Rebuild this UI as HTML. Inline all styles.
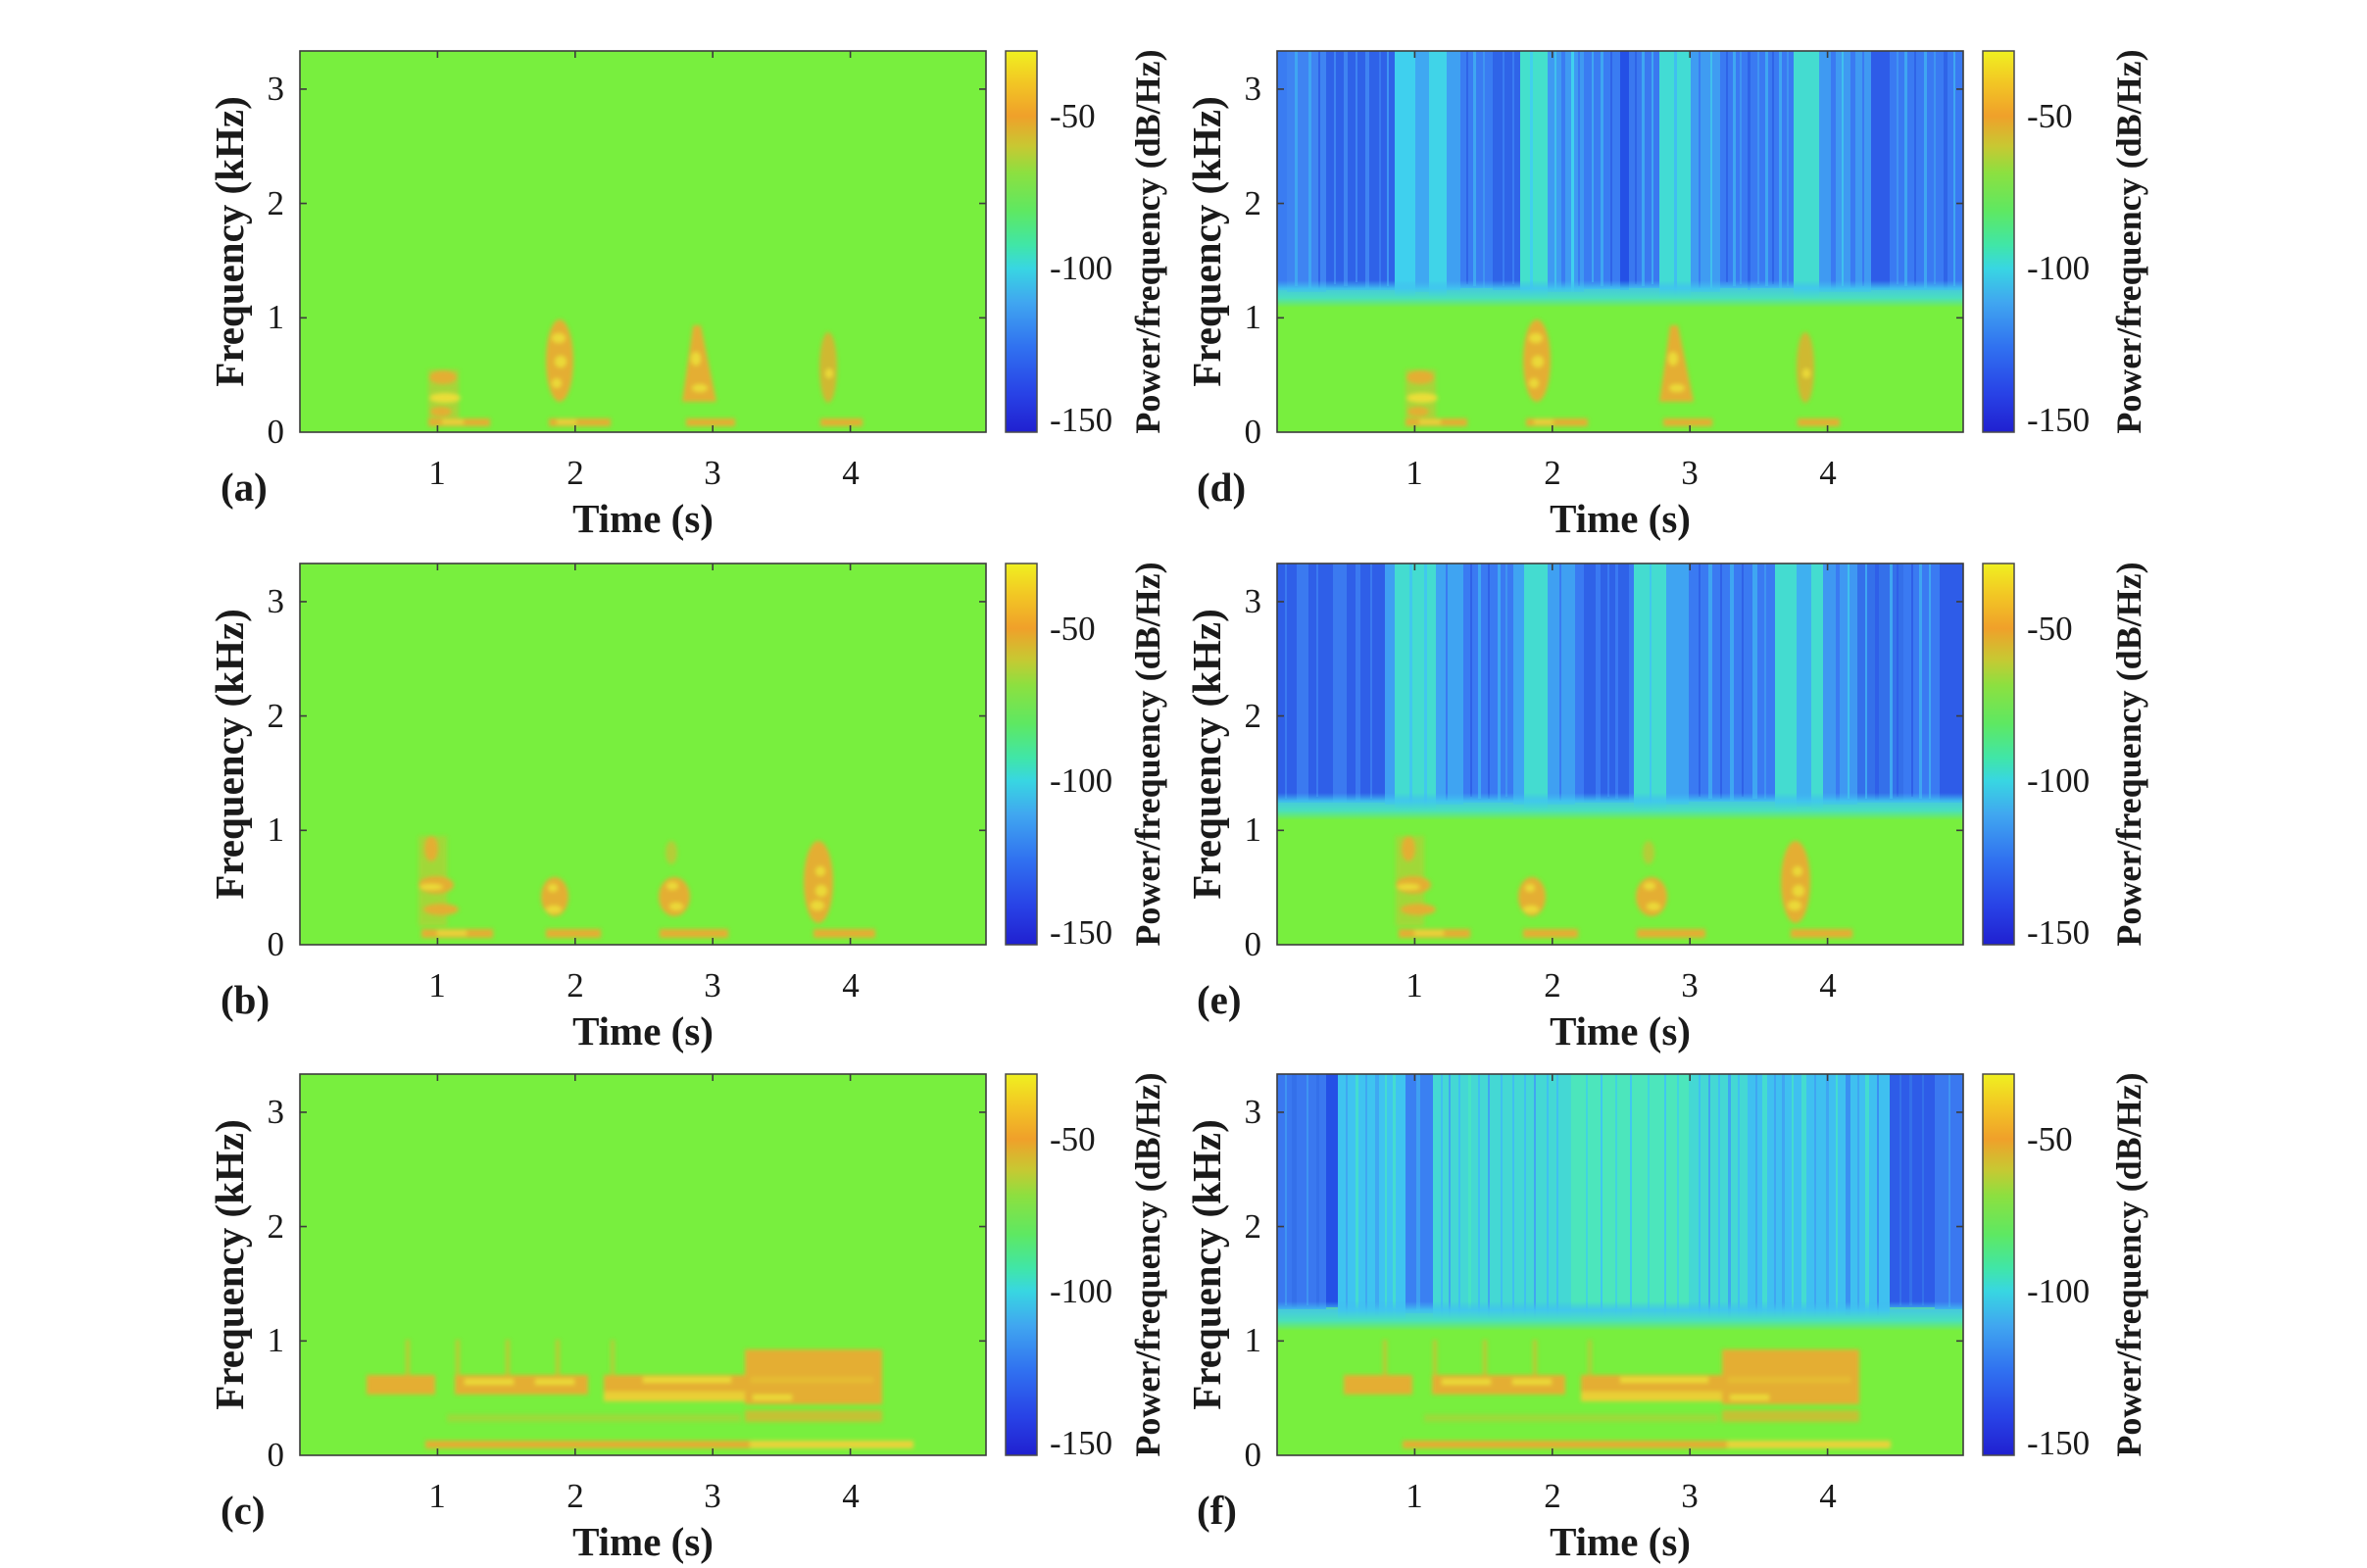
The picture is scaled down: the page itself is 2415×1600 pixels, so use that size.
<!DOCTYPE html>
<html>
<head>
<meta charset="utf-8">
<style>
html,body{margin:0;padding:0;background:#fff;}
svg{display:block;}
text{font-family:"Liberation Serif",serif;fill:#1a1a1a;}
.tk{font-size:35px;}
.lb{font-size:41px;font-weight:bold;}
.cl{font-size:36px;font-weight:bold;}
</style>
</head>
<body>
<svg width="2415" height="1600" viewBox="0 0 2415 1600" xmlns="http://www.w3.org/2000/svg">
<defs>
  <linearGradient id="cb" x1="0" y1="0" x2="0" y2="1">
    <stop offset="0" stop-color="#f0f020"/>
    <stop offset="0.08" stop-color="#f2c824"/>
    <stop offset="0.17" stop-color="#f0a02a"/>
    <stop offset="0.25" stop-color="#c8c832"/>
    <stop offset="0.32" stop-color="#8ce040"/>
    <stop offset="0.42" stop-color="#5ee862"/>
    <stop offset="0.51" stop-color="#40e6a8"/>
    <stop offset="0.57" stop-color="#38d6e2"/>
    <stop offset="0.66" stop-color="#40a6f0"/>
    <stop offset="0.78" stop-color="#3070f0"/>
    <stop offset="0.9" stop-color="#2842e6"/>
    <stop offset="1" stop-color="#2020d0"/>
  </linearGradient>
  <linearGradient id="fringe" x1="0" y1="0" x2="0" y2="1">
    <stop offset="0" stop-color="#40b8f0" stop-opacity="0"/>
    <stop offset="0.3" stop-color="#40c6ee" stop-opacity="0.9"/>
    <stop offset="0.65" stop-color="#4ae0bc" stop-opacity="1"/>
    <stop offset="1" stop-color="#78ef3e" stop-opacity="1"/>
  </linearGradient>
  <filter id="soft" x="-10%" y="-10%" width="120%" height="120%">
    <feGaussianBlur stdDeviation="2.2"/>
  </filter>

  <g id="blobA" filter="url(#soft)" opacity="0.9">
    <rect x="131" y="-64" width="31" height="58" fill="#e8b030" opacity=".45"/>
    <ellipse cx="146" cy="-56" rx="14" ry="7" fill="#f0a830"/>
    <ellipse cx="148" cy="-35" rx="16" ry="5" fill="#f8dc38"/>
    <ellipse cx="144" cy="-21" rx="11" ry="5" fill="#f0a830"/>
    <rect x="131" y="-14" width="63" height="8" fill="#f0a830"/>
    <rect x="145" y="-13" width="22" height="5" fill="#f6d03a"/>

    <ellipse cx="265" cy="-73" rx="14" ry="42" fill="#f0a830"/>
    <ellipse cx="264" cy="-96" rx="7" ry="5" fill="#f8d838"/>
    <ellipse cx="266" cy="-72" rx="6" ry="6" fill="#f8d838"/>
    <ellipse cx="262" cy="-50" rx="5" ry="5" fill="#f8d838"/>
    <rect x="254" y="-14" width="63" height="8" fill="#f0a830"/>
    <rect x="262" y="-13" width="20" height="5" fill="#f6d03a"/>

    <polygon points="401,-109 409,-109 425,-31 390,-31" fill="#f0a830"/>
    <ellipse cx="404" cy="-75" rx="5" ry="7" fill="#f8d838"/>
    <ellipse cx="408" cy="-45" rx="8" ry="4" fill="#f8d838"/>
    <rect x="394" y="-14" width="50" height="8" fill="#f0a830"/>

    <ellipse cx="539" cy="-66" rx="9" ry="36" fill="#eaa830" opacity=".85"/>
    <ellipse cx="540" cy="-60" rx="4" ry="5" fill="#f8d838"/>
    <rect x="531" y="-14" width="43" height="8" fill="#f0a830"/>
  </g>

  <g id="blobB" filter="url(#soft)" opacity="0.9">
    <rect x="121" y="-111" width="29" height="92" fill="#e8b030" opacity=".4"/>
    <ellipse cx="134" cy="-98" rx="7" ry="13" fill="#f0a830"/>
    <ellipse cx="139" cy="-61" rx="18" ry="9" fill="#f0a830"/>
    <ellipse cx="134" cy="-59" rx="12" ry="3" fill="#f8dc38"/>
    <ellipse cx="144" cy="-36" rx="18" ry="6" fill="#f0a830"/>
    <rect x="124" y="-16" width="73" height="9" fill="#f0a830"/>
    <rect x="140" y="-15" width="30" height="6" fill="#f6d03a"/>

    <ellipse cx="260" cy="-49" rx="14" ry="20" fill="#f0a830"/>
    <ellipse cx="259" cy="-36" rx="8" ry="4" fill="#f8d838"/>
    <ellipse cx="258" cy="-58" rx="5" ry="4" fill="#f8d838"/>
    <rect x="251" y="-16" width="56" height="9" fill="#f0a830"/>

    <ellipse cx="379" cy="-94" rx="6" ry="12" fill="#e8b030" opacity=".6"/>
    <ellipse cx="382" cy="-49" rx="16" ry="20" fill="#f0a830"/>
    <ellipse cx="384" cy="-39" rx="7" ry="4" fill="#f8d838"/>
    <ellipse cx="380" cy="-60" rx="6" ry="4" fill="#f8d838"/>
    <rect x="367" y="-16" width="70" height="9" fill="#f0a830"/>

    <ellipse cx="529" cy="-64" rx="15" ry="42" fill="#f0a830"/>
    <ellipse cx="532" cy="-55" rx="6" ry="6" fill="#f8d838"/>
    <ellipse cx="528" cy="-40" rx="7" ry="5" fill="#f8d838"/>
    <ellipse cx="531" cy="-75" rx="5" ry="5" fill="#f8d838"/>
    <rect x="524" y="-16" width="63" height="9" fill="#f0a830"/>
  </g>

  <g id="blobC" filter="url(#soft)" opacity="0.9">
    <rect x="108" y="-118" width="4" height="40" fill="#e8b030" opacity=".7"/>
    <rect x="159" y="-118" width="4" height="40" fill="#e8b030" opacity=".7"/>
    <rect x="210" y="-118" width="4" height="40" fill="#e8b030" opacity=".7"/>
    <rect x="261" y="-118" width="4" height="40" fill="#e8b030" opacity=".7"/>
    <rect x="317" y="-118" width="4" height="40" fill="#e8b030" opacity=".6"/>
    <rect x="68" y="-82" width="70" height="20" fill="#f0a830"/>
    <rect x="158" y="-82" width="136" height="20" fill="#f0a830"/>
    <rect x="168" y="-78" width="50" height="6" fill="#f8d838"/>
    <rect x="240" y="-78" width="40" height="6" fill="#f8d838"/>
    <rect x="310" y="-82" width="149" height="20" fill="#f0a830"/>
    <rect x="310" y="-65" width="158" height="10" fill="#f6cc34"/>
    <rect x="350" y="-80" width="90" height="6" fill="#f8d838"/>
    <rect x="454" y="-108" width="140" height="56" fill="#f0a830"/>
    <rect x="460" y="-80" width="125" height="6" fill="#f2b830"/>
    <rect x="462" y="-62" width="40" height="6" fill="#f8d838"/>
    <rect x="150" y="-42" width="300" height="8" fill="#e8b030" opacity=".35"/>
    <rect x="454" y="-46" width="140" height="12" fill="#f0a830" opacity=".7"/>
    <rect x="128" y="-15" width="498" height="8" fill="#f0a830"/>
    <rect x="459" y="-15" width="167" height="8" fill="#f6d03a"/>
  </g>
</defs>

<rect x="0" y="0" width="2415" height="1600" fill="#ffffff"/>

<!-- LEFT COLUMN -->
<g transform="translate(306,52)">
  <rect width="700" height="389" fill="#78ef3e"/>
  <use href="#blobA" transform="translate(0,389)"/>
</g>
<g transform="translate(306,575)">
  <rect width="700" height="389" fill="#78ef3e"/>
  <use href="#blobB" transform="translate(0,389)"/>
</g>
<g transform="translate(306,1096)">
  <rect width="700" height="389" fill="#78ef3e"/>
  <use href="#blobC" transform="translate(0,389)"/>
</g>

<!-- RIGHT COLUMN -->
<!-- (d) -->
<g transform="translate(1303,52)">
  <rect width="700" height="389" fill="#78ef3e"/>
  <g>
    <rect x="0" y="0" width="10" height="244" fill="#3a7cf2"/>
    <rect x="10" y="0" width="40" height="246" fill="#3f84f2"/>
    <rect x="18" y="0" width="3" height="240" fill="#3fa6f2"/>
    <rect x="32" y="0" width="3" height="242" fill="#3fa6f2"/>
    <rect x="42" y="0" width="2" height="244" fill="#2f62e8"/>
    <rect x="50" y="0" width="70" height="244" fill="#2f62e8"/>
    <rect x="58" y="0" width="2" height="238" fill="#3f84f2"/>
    <rect x="68" y="0" width="4" height="240" fill="#3f84f2"/>
    <rect x="80" y="0" width="2" height="236" fill="#3f84f2"/>
    <rect x="90" y="0" width="4" height="242" fill="#3f84f2"/>
    <rect x="104" y="0" width="2" height="244" fill="#3a78f0"/>
    <rect x="112" y="0" width="2" height="240" fill="#3f94f2"/>
    <rect x="120" y="0" width="21" height="250" fill="#3fd0ee"/>
    <rect x="141" y="0" width="14" height="246" fill="#3fa8f2"/>
    <rect x="155" y="0" width="18" height="250" fill="#40d4e8"/>
    <rect x="173" y="0" width="14" height="244" fill="#3fa0f2"/>
    <rect x="187" y="0" width="33" height="242" fill="#3a7cf2"/>
    <rect x="193" y="0" width="2" height="238" fill="#2f64e8"/>
    <rect x="200" y="0" width="3" height="240" fill="#3fa6f2"/>
    <rect x="210" y="0" width="2" height="242" fill="#3f94f2"/>
    <rect x="220" y="0" width="28" height="244" fill="#2f64e8"/>
    <rect x="230" y="0" width="2" height="240" fill="#3a7cf2"/>
    <rect x="240" y="0" width="2" height="238" fill="#3a7cf2"/>
    <rect x="248" y="0" width="28" height="256" fill="#44e0cc"/>
    <rect x="258" y="0" width="3" height="250" fill="#40d0ee"/>
    <rect x="276" y="0" width="37" height="246" fill="#3f9af2"/>
    <rect x="283" y="0" width="2" height="244" fill="#40c0ee"/>
    <rect x="290" y="0" width="4" height="244" fill="#3a7cf2"/>
    <rect x="300" y="0" width="3" height="246" fill="#40d0ee"/>
    <rect x="307" y="0" width="2" height="240" fill="#3a7cf2"/>
    <rect x="313" y="0" width="37" height="243" fill="#3a7cf2"/>
    <rect x="321" y="0" width="2" height="236" fill="#3fa6f2"/>
    <rect x="330" y="0" width="3" height="240" fill="#3fa6f2"/>
    <rect x="340" y="0" width="2" height="240" fill="#2f64e8"/>
    <rect x="350" y="0" width="9" height="244" fill="#2450e6"/>
    <rect x="359" y="0" width="31" height="242" fill="#3a78f0"/>
    <rect x="365" y="0" width="2" height="238" fill="#2f64e8"/>
    <rect x="372" y="0" width="3" height="240" fill="#3fa6f2"/>
    <rect x="382" y="0" width="2" height="238" fill="#3fa6f2"/>
    <rect x="390" y="0" width="32" height="256" fill="#42dcd4"/>
    <rect x="405" y="0" width="3" height="250" fill="#3fc0f0"/>
    <rect x="422" y="0" width="30" height="246" fill="#3f9cf2"/>
    <rect x="430" y="0" width="2" height="242" fill="#3a7cf2"/>
    <rect x="442" y="0" width="2" height="242" fill="#40c0ee"/>
    <rect x="452" y="0" width="75" height="242" fill="#3a7af2"/>
    <rect x="458" y="0" width="2" height="236" fill="#2f64e8"/>
    <rect x="465" y="0" width="3" height="240" fill="#3fa6f2"/>
    <rect x="472" y="0" width="2" height="238" fill="#3f94f2"/>
    <rect x="480" y="0" width="3" height="244" fill="#2f64e8"/>
    <rect x="490" y="0" width="2" height="238" fill="#3f94f2"/>
    <rect x="498" y="0" width="3" height="240" fill="#3fa6f2"/>
    <rect x="505" y="0" width="2" height="238" fill="#2f64e8"/>
    <rect x="512" y="0" width="3" height="242" fill="#3fa6f2"/>
    <rect x="520" y="0" width="2" height="240" fill="#3f94f2"/>
    <rect x="527" y="0" width="26" height="256" fill="#44dcd0"/>
    <rect x="553" y="0" width="53" height="246" fill="#3f9af2"/>
    <rect x="565" y="0" width="5" height="244" fill="#3a7af2"/>
    <rect x="576" y="0" width="2" height="240" fill="#40c0ee"/>
    <rect x="585" y="0" width="5" height="242" fill="#3a7af2"/>
    <rect x="597" y="0" width="2" height="240" fill="#3a7af2"/>
    <rect x="606" y="0" width="19" height="244" fill="#2e5ce8"/>
    <rect x="625" y="0" width="75" height="244" fill="#3a7af2"/>
    <rect x="632" y="0" width="2" height="238" fill="#3f94f2"/>
    <rect x="640" y="0" width="3" height="240" fill="#3fa6f2"/>
    <rect x="650" y="0" width="2" height="240" fill="#2f64e8"/>
    <rect x="660" y="0" width="3" height="242" fill="#3fa6f2"/>
    <rect x="670" y="0" width="2" height="238" fill="#3f94f2"/>
    <rect x="680" y="0" width="4" height="244" fill="#2f64e8"/>
    <rect x="690" y="0" width="2" height="240" fill="#3fa6f2"/>
  </g>
  <rect x="0" y="234" width="700" height="28" fill="url(#fringe)"/>
  <use href="#blobA" transform="translate(0,389)"/>
</g>

<!-- (e) -->
<g transform="translate(1303,575)">
  <rect width="700" height="389" fill="#78ef3e"/>
  <g>
    <rect x="0" y="0" width="110" height="244" fill="#2f5fe8"/>
    <rect x="8" y="0" width="2" height="240" fill="#3b7af0"/>
    <rect x="20" y="0" width="12" height="242" fill="#3b7af0"/>
    <rect x="40" y="0" width="2" height="238" fill="#3b7af0"/>
    <rect x="57" y="0" width="14" height="244" fill="#3b7af0"/>
    <rect x="80" y="0" width="5" height="242" fill="#3b7af0"/>
    <rect x="95" y="0" width="2" height="240" fill="#3b7af0"/>
    <rect x="110" y="0" width="10" height="246" fill="#3fa0f2"/>
    <rect x="120" y="0" width="42" height="256" fill="#44dcd0"/>
    <rect x="135" y="0" width="3" height="250" fill="#40c8ee"/>
    <rect x="150" y="0" width="3" height="250" fill="#40c8ee"/>
    <rect x="162" y="0" width="28" height="246" fill="#3fa4f2"/>
    <rect x="172" y="0" width="2" height="242" fill="#3a7af2"/>
    <rect x="190" y="0" width="51" height="244" fill="#3a7af2"/>
    <rect x="197" y="0" width="2" height="238" fill="#2f62e8"/>
    <rect x="205" y="0" width="3" height="240" fill="#3fa6f2"/>
    <rect x="215" y="0" width="2" height="240" fill="#2f62e8"/>
    <rect x="225" y="0" width="3" height="242" fill="#3fa6f2"/>
    <rect x="233" y="0" width="2" height="238" fill="#3f94f2"/>
    <rect x="241" y="0" width="11" height="246" fill="#3fa4f2"/>
    <rect x="252" y="0" width="24" height="256" fill="#44dcd0"/>
    <rect x="276" y="0" width="28" height="246" fill="#3fa0f2"/>
    <rect x="288" y="0" width="2" height="242" fill="#3a7af2"/>
    <rect x="304" y="0" width="9" height="244" fill="#3a7af2"/>
    <rect x="313" y="0" width="46" height="244" fill="#2f62e8"/>
    <rect x="325" y="0" width="5" height="242" fill="#3a7af2"/>
    <rect x="337" y="0" width="2" height="238" fill="#3a7af2"/>
    <rect x="345" y="0" width="3" height="240" fill="#3a7af2"/>
    <rect x="359" y="0" width="5" height="244" fill="#3a7af2"/>
    <rect x="364" y="0" width="33" height="256" fill="#44dcd0"/>
    <rect x="380" y="0" width="2" height="250" fill="#40c8ee"/>
    <rect x="397" y="0" width="23" height="246" fill="#3fa4f2"/>
    <rect x="420" y="0" width="88" height="243" fill="#3a7af2"/>
    <rect x="430" y="0" width="2" height="238" fill="#2f62e8"/>
    <rect x="440" y="0" width="4" height="240" fill="#3fa6f2"/>
    <rect x="452" y="0" width="2" height="240" fill="#2f62e8"/>
    <rect x="462" y="0" width="4" height="242" fill="#3fa6f2"/>
    <rect x="474" y="0" width="2" height="238" fill="#2f62e8"/>
    <rect x="485" y="0" width="5" height="240" fill="#3fa6f2"/>
    <rect x="497" y="0" width="2" height="240" fill="#3f94f2"/>
    <rect x="508" y="0" width="22" height="256" fill="#44dcd0"/>
    <rect x="530" y="0" width="15" height="248" fill="#3fb0f0"/>
    <rect x="545" y="0" width="12" height="256" fill="#44dcd0"/>
    <rect x="557" y="0" width="35" height="246" fill="#3f98f2"/>
    <rect x="570" y="0" width="4" height="244" fill="#3a7af2"/>
    <rect x="582" y="0" width="2" height="240" fill="#40c0ee"/>
    <rect x="592" y="0" width="47" height="244" fill="#3470ea"/>
    <rect x="600" y="0" width="2" height="240" fill="#3fa6f2"/>
    <rect x="610" y="0" width="4" height="242" fill="#2f5fe8"/>
    <rect x="625" y="0" width="3" height="240" fill="#3fa6f2"/>
    <rect x="632" y="0" width="2" height="238" fill="#2f5fe8"/>
    <rect x="639" y="0" width="37" height="244" fill="#3a7af2"/>
    <rect x="647" y="0" width="2" height="238" fill="#2f5fe8"/>
    <rect x="655" y="0" width="3" height="240" fill="#3fa6f2"/>
    <rect x="665" y="0" width="2" height="240" fill="#3fa6f2"/>
    <rect x="676" y="0" width="24" height="244" fill="#2e5ce8"/>
  </g>
  <rect x="0" y="234" width="700" height="28" fill="url(#fringe)"/>
  <use href="#blobB" transform="translate(0,389)"/>
</g>

<!-- (f) -->
<g transform="translate(1303,1096)">
  <rect width="700" height="389" fill="#78ef3e"/>
  <g>
    <rect x="0" y="0" width="50" height="240" fill="#3a78f0"/>
    <rect x="8" y="0" width="2" height="236" fill="#3f94f2"/>
    <rect x="15" y="0" width="5" height="238" fill="#3470ea"/>
    <rect x="30" y="0" width="2" height="236" fill="#3f94f2"/>
    <rect x="40" y="0" width="3" height="238" fill="#3470ea"/>
    <rect x="50" y="0" width="12" height="238" fill="#2450e6"/>
    <rect x="62" y="0" width="69" height="250" fill="#3fc4f0"/>
    <rect x="70" y="0" width="2" height="246" fill="#3fa8f2"/>
    <rect x="80" y="0" width="3" height="250" fill="#44dcd0"/>
    <rect x="90" y="0" width="2" height="246" fill="#3fa8f2"/>
    <rect x="100" y="0" width="4" height="246" fill="#3fa8f2"/>
    <rect x="110" y="0" width="2" height="250" fill="#44dcd0"/>
    <rect x="118" y="0" width="3" height="250" fill="#44dcd0"/>
    <rect x="131" y="0" width="28" height="244" fill="#3a80f2"/>
    <rect x="142" y="0" width="4" height="242" fill="#3fa0f2"/>
    <rect x="159" y="0" width="141" height="256" fill="#44d8d4"/>
    <rect x="167" y="0" width="2" height="250" fill="#3fc0f0"/>
    <rect x="175" y="0" width="2" height="250" fill="#3fa6f2"/>
    <rect x="185" y="0" width="2" height="250" fill="#3fc0f0"/>
    <rect x="195" y="0" width="3" height="252" fill="#48e4c4"/>
    <rect x="205" y="0" width="2" height="250" fill="#3fc0f0"/>
    <rect x="215" y="0" width="2" height="250" fill="#3fa6f2"/>
    <rect x="228" y="0" width="2" height="250" fill="#3fc0f0"/>
    <rect x="240" y="0" width="2" height="250" fill="#3fc0f0"/>
    <rect x="252" y="0" width="2" height="250" fill="#3fc0f0"/>
    <rect x="262" y="0" width="2" height="250" fill="#3fa6f2"/>
    <rect x="275" y="0" width="2" height="250" fill="#3fc0f0"/>
    <rect x="285" y="0" width="2" height="250" fill="#3fc0f0"/>
    <rect x="300" y="0" width="120" height="258" fill="#4ce6bc"/>
    <rect x="315" y="0" width="2" height="250" fill="#40d4e0"/>
    <rect x="330" y="0" width="2" height="250" fill="#3fc8f0"/>
    <rect x="345" y="0" width="2" height="250" fill="#40d4e0"/>
    <rect x="360" y="0" width="2" height="250" fill="#3fc8f0"/>
    <rect x="378" y="0" width="2" height="250" fill="#40d4e0"/>
    <rect x="395" y="0" width="2" height="250" fill="#3fc8f0"/>
    <rect x="408" y="0" width="2" height="250" fill="#40d4e0"/>
    <rect x="420" y="0" width="60" height="256" fill="#44d8d4"/>
    <rect x="430" y="0" width="2" height="250" fill="#3fc0f0"/>
    <rect x="440" y="0" width="2" height="250" fill="#3fa6f2"/>
    <rect x="450" y="0" width="2" height="250" fill="#3fc0f0"/>
    <rect x="460" y="0" width="3" height="250" fill="#3fa6f2"/>
    <rect x="470" y="0" width="2" height="250" fill="#3fc0f0"/>
    <rect x="480" y="0" width="145" height="250" fill="#3fc0f0"/>
    <rect x="488" y="0" width="2" height="248" fill="#3fa6f2"/>
    <rect x="495" y="0" width="5" height="252" fill="#44dcd0"/>
    <rect x="507" y="0" width="2" height="248" fill="#3fa6f2"/>
    <rect x="515" y="0" width="3" height="248" fill="#3fa6f2"/>
    <rect x="525" y="0" width="2" height="248" fill="#44dcd0"/>
    <rect x="535" y="0" width="5" height="252" fill="#44dcd0"/>
    <rect x="548" y="0" width="2" height="248" fill="#3fa6f2"/>
    <rect x="560" y="0" width="3" height="248" fill="#3fa6f2"/>
    <rect x="570" y="0" width="2" height="248" fill="#44dcd0"/>
    <rect x="580" y="0" width="5" height="246" fill="#3a90f2"/>
    <rect x="592" y="0" width="2" height="246" fill="#3fa6f2"/>
    <rect x="600" y="0" width="4" height="252" fill="#44dcd0"/>
    <rect x="612" y="0" width="2" height="246" fill="#3a90f2"/>
    <rect x="625" y="0" width="46" height="238" fill="#2e5ce8"/>
    <rect x="635" y="0" width="2" height="236" fill="#3470ea"/>
    <rect x="645" y="0" width="3" height="236" fill="#3470ea"/>
    <rect x="658" y="0" width="2" height="236" fill="#3470ea"/>
    <rect x="671" y="0" width="29" height="240" fill="#3a78f0"/>
    <rect x="685" y="0" width="2" height="238" fill="#3f94f2"/>
  </g>
  <rect x="0" y="232" width="700" height="30" fill="url(#fringe)"/>
  <use href="#blobC" transform="translate(0,389)"/>
</g>

<!-- AXES -->
<g fill="none" stroke="#3c3c3c" stroke-width="1.6">
  <rect x="306" y="52" width="700" height="389"/>
  <rect x="306" y="575" width="700" height="389"/>
  <rect x="306" y="1096" width="700" height="389"/>
  <rect x="1303" y="52" width="700" height="389"/>
  <rect x="1303" y="575" width="700" height="389"/>
  <rect x="1303" y="1096" width="700" height="389"/>
</g>

<g stroke="#3c3c3c" stroke-width="1.6">
  <path d="M446.4 441v-7M586.8 441v-7M727.2 441v-7M867.6 441v-7 M446.4 52v7M586.8 52v7M727.2 52v7M867.6 52v7"/>
  <path d="M446.4 964v-7M586.8 964v-7M727.2 964v-7M867.6 964v-7 M446.4 575v7M586.8 575v7M727.2 575v7M867.6 575v7"/>
  <path d="M446.4 1485v-7M586.8 1485v-7M727.2 1485v-7M867.6 1485v-7 M446.4 1096v7M586.8 1096v7M727.2 1096v7M867.6 1096v7"/>
  <path d="M1443.4 441v-7M1583.8 441v-7M1724.2 441v-7M1864.6 441v-7 M1443.4 52v7M1583.8 52v7M1724.2 52v7M1864.6 52v7"/>
  <path d="M1443.4 964v-7M1583.8 964v-7M1724.2 964v-7M1864.6 964v-7 M1443.4 575v7M1583.8 575v7M1724.2 575v7M1864.6 575v7"/>
  <path d="M1443.4 1485v-7M1583.8 1485v-7M1724.2 1485v-7M1864.6 1485v-7 M1443.4 1096v7M1583.8 1096v7M1724.2 1096v7M1864.6 1096v7"/>
  <path d="M306 324.3h7M306 207.6h7M306 90.9h7 M1006 324.3h-7M1006 207.6h-7M1006 90.9h-7"/>
  <path d="M306 847.3h7M306 730.6h7M306 613.9h7 M1006 847.3h-7M1006 730.6h-7M1006 613.9h-7"/>
  <path d="M306 1368.3h7M306 1251.6h7M306 1134.9h7 M1006 1368.3h-7M1006 1251.6h-7M1006 1134.9h-7"/>
  <path d="M1303 324.3h7M1303 207.6h7M1303 90.9h7 M2003 324.3h-7M2003 207.6h-7M2003 90.9h-7"/>
  <path d="M1303 847.3h7M1303 730.6h7M1303 613.9h7 M2003 847.3h-7M2003 730.6h-7M2003 613.9h-7"/>
  <path d="M1303 1368.3h7M1303 1251.6h7M1303 1134.9h7 M2003 1368.3h-7M2003 1251.6h-7M2003 1134.9h-7"/>
</g>

<!-- colorbars -->
<g stroke="#4a4a4a" stroke-width="1.5">
  <rect x="1026" y="52" width="32" height="389" fill="url(#cb)"/>
  <rect x="1026" y="575" width="32" height="389" fill="url(#cb)"/>
  <rect x="1026" y="1096" width="32" height="389" fill="url(#cb)"/>
  <rect x="2023" y="52" width="32" height="389" fill="url(#cb)"/>
  <rect x="2023" y="575" width="32" height="389" fill="url(#cb)"/>
  <rect x="2023" y="1096" width="32" height="389" fill="url(#cb)"/>
</g>

<!-- Y tick labels -->
<g text-anchor="end">
  <text class="tk" x="290" y="452">0</text><text class="tk" x="290" y="335">1</text><text class="tk" x="290" y="219">2</text><text class="tk" x="290" y="102">3</text>
  <text class="tk" x="290" y="975">0</text><text class="tk" x="290" y="858">1</text><text class="tk" x="290" y="742">2</text><text class="tk" x="290" y="625">3</text>
  <text class="tk" x="290" y="1496">0</text><text class="tk" x="290" y="1379">1</text><text class="tk" x="290" y="1263">2</text><text class="tk" x="290" y="1146">3</text>
  <text class="tk" x="1287" y="452">0</text><text class="tk" x="1287" y="335">1</text><text class="tk" x="1287" y="219">2</text><text class="tk" x="1287" y="102">3</text>
  <text class="tk" x="1287" y="975">0</text><text class="tk" x="1287" y="858">1</text><text class="tk" x="1287" y="742">2</text><text class="tk" x="1287" y="625">3</text>
  <text class="tk" x="1287" y="1496">0</text><text class="tk" x="1287" y="1379">1</text><text class="tk" x="1287" y="1263">2</text><text class="tk" x="1287" y="1146">3</text>
</g>

<!-- X tick labels -->
<g text-anchor="middle">
  <text class="tk" x="446" y="494">1</text><text class="tk" x="587" y="494">2</text><text class="tk" x="727" y="494">3</text><text class="tk" x="868" y="494">4</text>
  <text class="tk" x="446" y="1017">1</text><text class="tk" x="587" y="1017">2</text><text class="tk" x="727" y="1017">3</text><text class="tk" x="868" y="1017">4</text>
  <text class="tk" x="446" y="1538">1</text><text class="tk" x="587" y="1538">2</text><text class="tk" x="727" y="1538">3</text><text class="tk" x="868" y="1538">4</text>
  <text class="tk" x="1443" y="494">1</text><text class="tk" x="1584" y="494">2</text><text class="tk" x="1724" y="494">3</text><text class="tk" x="1865" y="494">4</text>
  <text class="tk" x="1443" y="1017">1</text><text class="tk" x="1584" y="1017">2</text><text class="tk" x="1724" y="1017">3</text><text class="tk" x="1865" y="1017">4</text>
  <text class="tk" x="1443" y="1538">1</text><text class="tk" x="1584" y="1538">2</text><text class="tk" x="1724" y="1538">3</text><text class="tk" x="1865" y="1538">4</text>
</g>

<!-- Time labels -->
<g text-anchor="middle">
  <text class="lb" x="656" y="543">Time (s)</text>
  <text class="lb" x="656" y="1066">Time (s)</text>
  <text class="lb" x="656" y="1587">Time (s)</text>
  <text class="lb" x="1653" y="543">Time (s)</text>
  <text class="lb" x="1653" y="1066">Time (s)</text>
  <text class="lb" x="1653" y="1587">Time (s)</text>
</g>

<!-- Panel letters -->
<g>
  <text class="lb" x="225" y="511">(a)</text>
  <text class="lb" x="225" y="1034">(b)</text>
  <text class="lb" x="225" y="1555">(c)</text>
  <text class="lb" x="1221" y="511">(d)</text>
  <text class="lb" x="1221" y="1034">(e)</text>
  <text class="lb" x="1221" y="1555">(f)</text>
</g>

<!-- Frequency labels -->
<g text-anchor="middle">
  <text class="lb" transform="translate(248,246.5) rotate(-90)">Frequency (kHz)</text>
  <text class="lb" transform="translate(248,769.5) rotate(-90)">Frequency (kHz)</text>
  <text class="lb" transform="translate(248,1290.5) rotate(-90)">Frequency (kHz)</text>
  <text class="lb" transform="translate(1245,246.5) rotate(-90)">Frequency (kHz)</text>
  <text class="lb" transform="translate(1245,769.5) rotate(-90)">Frequency (kHz)</text>
  <text class="lb" transform="translate(1245,1290.5) rotate(-90)">Frequency (kHz)</text>
</g>

<!-- Colorbar tick labels -->
<g>
  <text class="tk" x="1071" y="130">-50</text><text class="tk" x="1071" y="285">-100</text><text class="tk" x="1071" y="440">-150</text>
  <text class="tk" x="1071" y="653">-50</text><text class="tk" x="1071" y="808">-100</text><text class="tk" x="1071" y="963">-150</text>
  <text class="tk" x="1071" y="1174">-50</text><text class="tk" x="1071" y="1329">-100</text><text class="tk" x="1071" y="1484">-150</text>
  <text class="tk" x="2068" y="130">-50</text><text class="tk" x="2068" y="285">-100</text><text class="tk" x="2068" y="440">-150</text>
  <text class="tk" x="2068" y="653">-50</text><text class="tk" x="2068" y="808">-100</text><text class="tk" x="2068" y="963">-150</text>
  <text class="tk" x="2068" y="1174">-50</text><text class="tk" x="2068" y="1329">-100</text><text class="tk" x="2068" y="1484">-150</text>
</g>

<!-- Colorbar labels -->
<g text-anchor="middle">
  <text class="cl" transform="translate(1183,246.5) rotate(-90)">Power/frequency (dB/Hz)</text>
  <text class="cl" transform="translate(1183,769.5) rotate(-90)">Power/frequency (dB/Hz)</text>
  <text class="cl" transform="translate(1183,1290.5) rotate(-90)">Power/frequency (dB/Hz)</text>
  <text class="cl" transform="translate(2184,246.5) rotate(-90)">Power/frequency (dB/Hz)</text>
  <text class="cl" transform="translate(2184,769.5) rotate(-90)">Power/frequency (dB/Hz)</text>
  <text class="cl" transform="translate(2184,1290.5) rotate(-90)">Power/frequency (dB/Hz)</text>
</g>
</svg>
</body>
</html>
